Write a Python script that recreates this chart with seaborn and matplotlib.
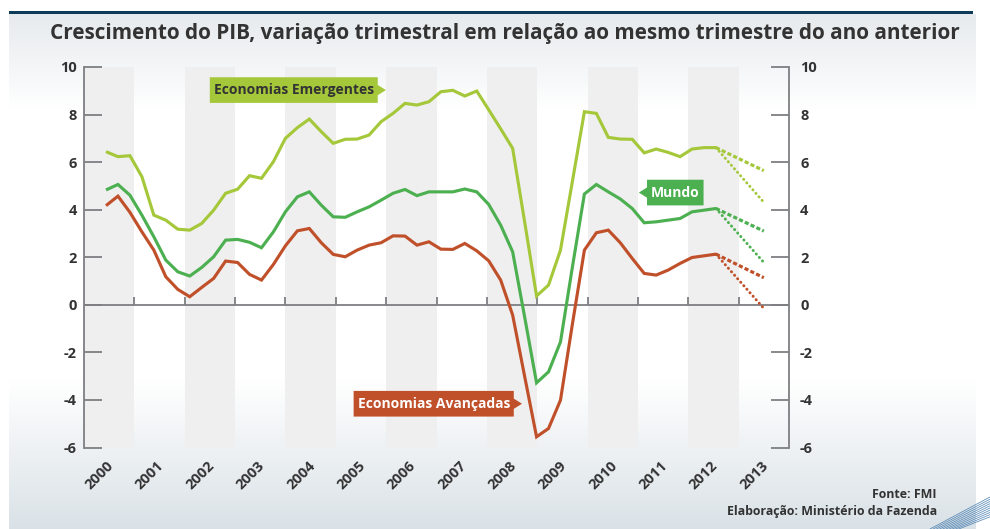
import numpy as np
import matplotlib
matplotlib.use("Agg")
import matplotlib.pyplot as plt
import seaborn as sns
from matplotlib.path import Path
from matplotlib.patches import Rectangle

# ---------------- data ----------------
title = "Crescimento do PIB, variação trimestral em relação ao mesmo trimestre do ano anterior"
years = [str(y) for y in range(2000, 2014)]
yticks = [-6, -4, -2, 0, 2, 4, 6, 8, 10]
ytick_labels = ["-6", "-4", "-2", "0", "2", "4", "6", "8", "10"]

# quarterly values 2000Q1 .. 2012Q4
emergentes = [6.44, 6.23, 6.27, 5.39, 3.77, 3.56, 3.18, 3.14, 3.42, 3.98, 4.69, 4.86,
              5.43, 5.32, 6.02, 7.00, 7.45, 7.81, 7.28, 6.79, 6.96, 6.97, 7.14, 7.70,
              8.05, 8.47, 8.40, 8.54, 8.96, 9.02, 8.78, 8.99, 8.20, 7.40, 6.58, 3.50,
              0.37, 0.83, 2.30, 5.20, 8.12, 8.05, 7.04, 6.97, 6.96, 6.39, 6.55, 6.41,
              6.23, 6.55, 6.61, 6.61]
mundo = [4.83, 5.06, 4.61, 3.77, 2.86, 1.88, 1.39, 1.21, 1.57, 2.02, 2.72, 2.75,
         2.63, 2.40, 3.07, 3.91, 4.54, 4.75, 4.19, 3.70, 3.68, 3.91, 4.12, 4.40,
         4.69, 4.85, 4.59, 4.75, 4.75, 4.75, 4.87, 4.75, 4.22, 3.35, 2.23, -0.50,
         -3.28, -2.82, -1.56, 1.60, 4.66, 5.06, 4.75, 4.45, 4.05, 3.45, 3.49, 3.56,
         3.63, 3.91, 3.98, 4.05]
avancadas = [4.17, 4.57, 3.89, 3.07, 2.30, 1.18, 0.65, 0.34, 0.73, 1.11, 1.84, 1.78,
             1.28, 1.04, 1.70, 2.48, 3.11, 3.21, 2.61, 2.12, 2.02, 2.30, 2.51, 2.61,
             2.90, 2.89, 2.51, 2.65, 2.34, 2.33, 2.58, 2.27, 1.85, 1.04, -0.43, -3.00,
             -5.55, -5.20, -4.01, -0.80, 2.30, 3.03, 3.14, 2.61, 1.95, 1.32, 1.25, 1.46,
             1.74, 1.99, 2.06, 2.13]
# 2013Q4 projections: (upper scenario, lower scenario)
emergentes_proj = [5.64, 4.31]
mundo_proj = [3.10, 1.78]
avancadas_proj = [1.14, -0.15]
proj_quarters_ahead = 4

# ---------------- styles ----------------
C_EMERG = "#a5c83a"
C_MUNDO = "#4cb050"
C_AVANC = "#c0502a"
C_AXIS = "#7d7f82"
C_TEXT = "#333333"
C_BAND = "#efefef"
FONT = "Open Sans"

sns.set_theme(style="white")
plt.rcParams["font.family"] = [FONT, "DejaVu Sans"]
plt.rcParams["font.weight"] = "bold"

W, H = 990, 529
fig = plt.figure(figsize=(W / 100, H / 100), dpi=100)
fig.patch.set_facecolor("white")

# background card with soft gradient
bg = fig.add_axes([0, 0, 1, 1], zorder=-10)
bg.set_axis_off()
bg.set_xlim(0, W)
bg.set_ylim(H, 0)
rows = np.arange(14, H)
stops_y = [14, 110, 380, 529]
top_c = np.array([0.905, 0.92, 0.93])
bot_c = np.array([0.855, 0.885, 0.905])
white = np.array([1.0, 1.0, 1.0])
stops_c = np.array([top_c, white, white, bot_c])
grad = np.stack([np.interp(rows, stops_y, stops_c[:, k]) for k in range(3)], axis=-1)
bg.imshow(grad[:, None, :], extent=(9, 976, H, 14), aspect="auto", interpolation="bilinear")
bg.add_patch(Rectangle((9, 10.5), 964, 3.5, color="#0e3b57", lw=0))
for i in range(10):
    bg.plot([930 + i * 3.2, W], [H, 497 + i * 2.2], color="#3f78ad", lw=0.6, alpha=0.8)

# main axes
x0, x1 = 84, 789
ytop, ybot = 67, 447.5
ax = fig.add_axes([x0 / W, (H - ybot) / H, (x1 - x0) / W, (ybot - ytop) / H])
ax.patch.set_alpha(0)

q = np.arange(len(emergentes))
q_first_px, q_step_px = 106, 11.96
xmin = (x0 - q_first_px) / q_step_px
xmax = (x1 - q_first_px) / q_step_px
year_w = (xmax - xmin) / len(years)
bounds = xmin + year_w * np.arange(len(years) + 1)

ax.set_xlim(xmin, xmax)
ax.set_ylim(-6, 10)

for i in range(0, len(years), 2):
    ax.axvspan(bounds[i], bounds[i + 1], color=C_BAND, lw=0, zorder=0)

ax.axhline(0, color=C_AXIS, lw=1.3, zorder=1)
ax.vlines(bounds[1:-1], 0, 0.34, color=C_AXIS, lw=1.3, zorder=1)

lw = 2.25
for vals, proj, col in [(emergentes, emergentes_proj, C_EMERG),
                        (mundo, mundo_proj, C_MUNDO),
                        (avancadas, avancadas_proj, C_AVANC)]:
    sns.lineplot(x=q, y=vals, color=col, lw=lw, ax=ax, zorder=3,
                 solid_joinstyle="miter", solid_capstyle="butt")
    px = [q[-1], q[-1] + proj_quarters_ahead]
    sns.lineplot(x=px, y=[vals[-1], proj[0]], color=col, lw=2.3, ax=ax, zorder=3,
                 linestyle=(0, (1.3, 0.7)), dash_capstyle="butt")
    sns.lineplot(x=px, y=[vals[-1], proj[1]], color=col, lw=2.1, ax=ax, zorder=3,
                 linestyle=(0, (0.1, 1.5)), dash_capstyle="round")

# axes styling
for s in ["top", "bottom"]:
    ax.spines[s].set_visible(False)
for s in ["left", "right"]:
    ax.spines[s].set_visible(True)
    ax.spines[s].set_color(C_AXIS)
    ax.spines[s].set_linewidth(1.3)

ax.set_yticks(yticks)
ax.set_yticklabels(ytick_labels)
ax.tick_params(axis="y", direction="in", length=13, width=1.3, color=C_AXIS,
               labelsize=10.5, labelcolor=C_TEXT, pad=5, left=True, right=False)
ax2 = ax.twinx()
ax2.set_ylim(-6, 10)
ax2.set_yticks(yticks)
ax2.set_yticklabels(ytick_labels)
ax2.tick_params(axis="y", direction="in", length=13, width=1.3, color=C_AXIS,
                labelsize=10.5, labelcolor=C_TEXT, pad=8, right=True)
for s in ax2.spines.values():
    s.set_visible(False)
ax2.grid(False)
ax.grid(False)

centers = (bounds[:-1] + bounds[1:]) / 2
ax.set_xticks(centers + 0.6)
ax.set_xticklabels(years, rotation=45, ha="right", fontsize=10.5, color=C_TEXT)
ax.tick_params(axis="x", length=0, pad=8)
ax.set_xlabel("")
ax.set_ylabel("")
for t in ax.get_yticklabels() + ax2.get_yticklabels() + ax.get_xticklabels():
    t.set_fontweight("bold")


# tag-shaped label boxes
def make_tag(side):
    def tag(x0, y0, width, height, mutation_size):
        padx, pady = 0.28 * mutation_size, 0.42 * mutation_size
        xa, ya = x0 - padx, y0 - pady
        w, h = width + 2 * padx, height + 2 * pady
        tip = h * 0.32
        if side == "right":
            verts = [(xa, ya), (xa + w, ya), (xa + w, ya + h * 0.3), (xa + w + tip, ya + h / 2),
                     (xa + w, ya + h * 0.7), (xa + w, ya + h), (xa, ya + h), (xa, ya)]
        else:
            verts = [(xa, ya), (xa + w, ya), (xa + w, ya + h), (xa, ya + h),
                     (xa, ya + h * 0.7), (xa - tip, ya + h / 2), (xa, ya + h * 0.3), (xa, ya)]
        codes = [Path.MOVETO] + [Path.LINETO] * (len(verts) - 2) + [Path.CLOSEPOLY]
        return Path(verts, codes)
    return tag


ax.text(15.7, 9.03, "Economias Emergentes", ha="center", va="center", fontsize=10,
        fontweight="bold", color=C_TEXT, zorder=5,
        bbox=dict(boxstyle=make_tag("right"), fc=C_EMERG, ec="none"))
ax.text(47.6, 4.72, "Mundo", ha="center", va="center", fontsize=10,
        fontweight="bold", color="white", zorder=5,
        bbox=dict(boxstyle=make_tag("left"), fc=C_MUNDO, ec="none"))
ax.text(27.4, -4.16, "Economias Avançadas", ha="center", va="center", fontsize=10,
        fontweight="bold", color="white", zorder=5,
        bbox=dict(boxstyle=make_tag("right"), fc=C_AVANC, ec="none"))

# title and footer
t_title = fig.text(505 / W, 1 - 33 / H, title, ha="center", va="center",
                   fontsize=15, fontweight="bold", color=C_TEXT)
f1 = fig.text(937 / W, 1 - 494 / H, "Fonte: FMI", ha="right", va="center",
              fontsize=9.5, fontweight="bold", color=C_TEXT)
f2 = fig.text(937 / W, 1 - 511 / H, "Elaboração: Ministério da Fazenda", ha="right",
              va="center", fontsize=9.5, fontweight="bold", color=C_TEXT)

fig.canvas.draw()
r = fig.canvas.get_renderer()
wt = t_title.get_window_extent(r).width
t_title.set_fontsize(15 * 915 / wt)
w2 = f2.get_window_extent(r).width
f2.set_fontsize(9.5 * 213 / w2)
f1.set_fontsize(9.5 * 213 / w2)

fig.savefig("out.png", dpi=100)
